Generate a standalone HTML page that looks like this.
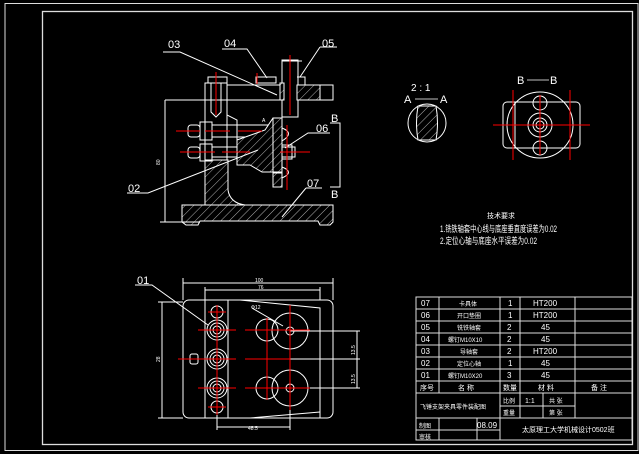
<!DOCTYPE html>
<html><head><meta charset="utf-8"><style>
html,body{margin:0;padding:0;background:#000;}
svg{display:block}
text{font-family:"Liberation Sans","Noto Sans CJK SC",sans-serif;fill:#fff}
</style></head><body>
<svg width="639" height="454" viewBox="0 0 639 454" xmlns="http://www.w3.org/2000/svg">
<defs>
<pattern id="h" width="6" height="6" patternUnits="userSpaceOnUse" patternTransform="rotate(45)">
<rect width="6" height="6" fill="#000"/><line x1="0" y1="0" x2="0" y2="6" stroke="#ddd" stroke-width="0.8"/>
</pattern>
</defs>
<rect x="0" y="0" width="639" height="454" fill="#000"/>
<rect x="5" y="3.5" width="633" height="447" fill="none" stroke="#ddd" stroke-width="1"/>
<rect x="42.5" y="11.5" width="590" height="433" fill="none" stroke="#ddd" stroke-width="1.3"/>

<g stroke="#fff" stroke-width="1" fill="none">
<path d="M182 205 L333 205 L333 222 L330 225 L320 225 L318 221 L200 221 L198 225 L186 225 L182 222 Z" fill="url(#h)"/>
<path d="M205 160 L228 160 L228 190 Q230 203 245 205 L205 205 Z" fill="url(#h)"/>
<rect x="205" y="83" width="22" height="77"/>
<path d="M227 100 L227 115 L237 120 L237 160"/>
<rect x="208" y="77" width="19" height="6"/>
<path d="M211 83 L211 112 L216 117 L221 112 L221 83"/>
<line x1="227" y1="85" x2="282" y2="85"/>
<line x1="165" y1="100" x2="282" y2="100"/>
<rect x="282" y="60" width="16" height="57"/>
<rect x="280" y="83" width="4" height="17" fill="url(#h)"/>
<rect x="297" y="85" width="23" height="15" fill="url(#h)"/>
<rect x="320" y="85" width="13" height="15"/>
<line x1="282" y1="61" x2="302" y2="61"/>
<rect x="256" y="77" width="20" height="6"/>
<path d="M297 77 L305 77 L305 85"/>
<rect x="188" y="125" width="12" height="12" rx="3"/>
<rect x="200" y="122" width="12" height="18"/>
<rect x="212" y="125" width="61" height="12"/>
<rect x="188" y="147" width="12" height="11" rx="3"/>
<rect x="200" y="144" width="12" height="17"/>
<rect x="212" y="147" width="83" height="10"/>
<rect x="282" y="145" width="10" height="14"/>
<path d="M237 140 L265 130 L273 118 L282 118 L282 172 L262 172 L250 165 L237 165 Z" fill="url(#h)"/>
<rect x="273" y="118" width="9" height="69"/>
<rect x="273" y="173" width="9" height="14" fill="url(#h)"/>
<path d="M282 128 Q295 133 282 141"/>
<path d="M282 167 Q295 172 282 178"/>
<line x1="165" y1="100" x2="165" y2="222"/>
<line x1="160" y1="222" x2="200" y2="222"/>
<path d="M330 123 L340 123 L340 187 L330 187"/>
<path d="M163 52 L180 52 L277 95"/>
<path d="M222 49 L247 49 L267 78"/>
<path d="M320 47 L337 47 M320 47 L300 77"/>
<path d="M330 133 L308 133 L285 148"/>
<path d="M127 193 L148 193 L258 150"/>
<path d="M306 188 L322 188 M306 188 L282 217"/>

<rect x="183" y="300" width="150" height="118" rx="6"/>
<line x1="205" y1="300" x2="205" y2="418"/>
<line x1="228" y1="300" x2="228" y2="418"/>
<path d="M240 300 L320 308 L320 418"/>
<path d="M250 418 L320 412"/>
<line x1="183" y1="283" x2="333" y2="283"/><line x1="183" y1="278" x2="183" y2="300"/><line x1="333" y1="278" x2="333" y2="300"/>
<line x1="205" y1="290" x2="320" y2="290"/><line x1="205" y1="287" x2="205" y2="300"/><line x1="320" y1="287" x2="320" y2="300"/>
<line x1="162" y1="302" x2="162" y2="418"/><line x1="158" y1="302" x2="183" y2="302"/><line x1="158" y1="418" x2="183" y2="418"/>
<line x1="217" y1="427" x2="290" y2="427"/><line x1="217" y1="407" x2="217" y2="430"/><line x1="290" y1="395" x2="290" y2="430"/>
<line x1="357" y1="331" x2="357" y2="388"/><line x1="290" y1="331" x2="360" y2="331"/><line x1="290" y1="388" x2="360" y2="388"/><line x1="290" y1="359" x2="360" y2="359"/>
<circle cx="217" cy="312" r="6"/><circle cx="217" cy="407" r="6"/>
<circle cx="217" cy="330" r="10"/><circle cx="217" cy="330" r="7"/><circle cx="217" cy="330" r="4"/>
<circle cx="217" cy="359" r="10"/><circle cx="217" cy="359" r="7"/><circle cx="217" cy="359" r="4"/>
<circle cx="217" cy="388" r="10"/><circle cx="217" cy="388" r="7"/><circle cx="217" cy="388" r="4"/>
<rect x="190" y="354" width="8" height="10" rx="2"/>
<circle cx="290" cy="331" r="18"/><circle cx="267" cy="330" r="11"/><circle cx="290" cy="331" r="4"/>
<circle cx="290" cy="388" r="18"/><circle cx="267" cy="388" r="11"/><circle cx="290" cy="388" r="4"/>
<path d="M135 285 L152 285 L208 325"/>
<path d="M252 308 L283 326"/>

<circle cx="427" cy="123" r="19"/>
<path d="M418 106 Q415 123 418 140 L436 140 Q439 123 436 106 Z" fill="url(#h)"/>
<line x1="415" y1="99" x2="438" y2="99" stroke-width="0.8"/>
<line x1="527" y1="80" x2="549" y2="80" stroke-width="0.8"/>
<circle cx="540" cy="125" r="33"/>
<rect x="503" y="102" width="77" height="46" rx="4"/>
<line x1="515" y1="102" x2="515" y2="148"/><line x1="570" y1="102" x2="570" y2="148"/>
<circle cx="540" cy="103" r="7"/><circle cx="540" cy="148" r="7"/>
<circle cx="540" cy="125" r="12"/><circle cx="540" cy="125" r="7"/><circle cx="540" cy="125" r="4"/>
</g>

<g stroke="#f00" stroke-width="1" fill="none">
<line x1="216" y1="72" x2="216" y2="115"/>
<line x1="290" y1="55" x2="290" y2="115"/>
<line x1="257" y1="73" x2="257" y2="84"/>
<line x1="176" y1="131" x2="200" y2="131"/><line x1="205" y1="131" x2="230" y2="131"/><line x1="238" y1="131" x2="262" y2="131"/>
<line x1="180" y1="152" x2="215" y2="152"/><line x1="222" y1="152" x2="250" y2="152"/><line x1="280" y1="152" x2="310" y2="152"/>
<line x1="287" y1="125" x2="287" y2="190"/>
<line x1="217" y1="305" x2="217" y2="415"/>
<line x1="290" y1="305" x2="290" y2="410"/>
<line x1="267" y1="318" x2="267" y2="400"/>
<line x1="198" y1="330" x2="236" y2="330"/><line x1="245" y1="330" x2="310" y2="330"/>
<line x1="178" y1="359" x2="236" y2="359"/><line x1="245" y1="359" x2="290" y2="359"/>
<line x1="198" y1="388" x2="236" y2="388"/><line x1="245" y1="388" x2="310" y2="388"/>
<line x1="208" y1="312" x2="226" y2="312"/><line x1="208" y1="407" x2="226" y2="407"/>
<line x1="513" y1="90" x2="513" y2="160"/><line x1="570" y1="90" x2="570" y2="160"/>
<line x1="493" y1="125" x2="590" y2="125"/>
<line x1="540" y1="95" x2="540" y2="155"/>
</g>

<g font-size="11">
<text x="168" y="48">03</text><text x="224" y="47">04</text><text x="322" y="47">05</text>
<text x="316" y="132">06</text><text x="128" y="192">02</text><text x="307" y="187">07</text>
<text x="331" y="122">B</text><text x="331" y="198">B</text>
<text x="137" y="284">01</text>
<text x="411" y="91" font-size="10">2 : 1</text>
<text x="404" y="103">A</text><text x="440" y="103">A</text>
<text x="517" y="84">B</text><text x="550" y="84">B</text>
</g>
<g font-size="5">
<text x="255" y="282">100</text><text x="258" y="289">76</text>
<text x="248" y="430">48.5</text><text x="251" y="309">Φ12</text>
<text x="160" y="165" transform="rotate(-90 160 165)">80</text>
<text x="160" y="362" transform="rotate(-90 160 362)">28</text>
<text x="355" y="355" transform="rotate(-90 355 355)">13.5</text>
<text x="355" y="384" transform="rotate(-90 355 384)">13.5</text>
<text x="262" y="122">A</text>
</g>
<text x="487" y="218" font-size="7">技术要求</text>
<text x="440" y="232" font-size="9" textLength="117" lengthAdjust="spacingAndGlyphs">1.铣铁轴套中心线与底座垂直度误差为0.02</text>
<text x="440" y="244" font-size="9" textLength="97" lengthAdjust="spacingAndGlyphs">2.定位心轴与底座水平误差为0.02</text>

<g stroke="#ddd" stroke-width="1" fill="none">
<rect x="416" y="297" width="216" height="143"/>
<line x1="416" y1="309" x2="632" y2="309"/><line x1="416" y1="321" x2="632" y2="321"/>
<line x1="416" y1="333" x2="632" y2="333"/><line x1="416" y1="345" x2="632" y2="345"/>
<line x1="416" y1="357" x2="632" y2="357"/><line x1="416" y1="369" x2="632" y2="369"/>
<line x1="416" y1="381" x2="632" y2="381"/><line x1="416" y1="393" x2="632" y2="393"/>
<line x1="500" y1="406" x2="575" y2="406"/><line x1="416" y1="418" x2="632" y2="418"/>
<line x1="416" y1="430" x2="500" y2="430"/>
<line x1="439" y1="297" x2="439" y2="393"/><line x1="439" y1="418" x2="439" y2="440"/>
<line x1="477" y1="418" x2="477" y2="440"/>
<line x1="500" y1="297" x2="500" y2="440"/>
<line x1="520" y1="297" x2="520" y2="418"/>
<line x1="543" y1="393" x2="543" y2="418"/>
<line x1="575" y1="297" x2="575" y2="418"/>
</g>
<g font-size="8">
<text x="421" y="306">07</text><text x="421" y="318">06</text><text x="421" y="330">05</text>
<text x="421" y="342">04</text><text x="421" y="354">03</text><text x="421" y="366">02</text><text x="421" y="378">01</text>
<text x="420" y="390" font-size="7">序号</text>
<text x="459" y="306" font-size="6">卡具体</text><text x="457" y="318" font-size="6">开口垫圈</text>
<text x="457" y="330" font-size="6">铣铁轴套</text><text x="448" y="342" font-size="6">螺钉M10X10</text>
<text x="460" y="354" font-size="6">导轴套</text><text x="457" y="366" font-size="6">定位心轴</text>
<text x="448" y="378" font-size="6">螺钉M10X20</text>
<text x="458" y="390" font-size="7">名 称</text>
<text x="508" y="306">1</text><text x="508" y="318">1</text><text x="507" y="330">2</text>
<text x="507" y="342">2</text><text x="507" y="354">2</text><text x="508" y="366">1</text><text x="507" y="378">3</text>
<text x="503" y="390" font-size="7">数量</text>
<text x="533" y="306">HT200</text><text x="533" y="318">HT200</text><text x="541" y="330">45</text>
<text x="541" y="342">45</text><text x="533" y="354">HT200</text><text x="541" y="366">45</text><text x="541" y="378">45</text>
<text x="538" y="390" font-size="7">材 料</text><text x="591" y="390" font-size="7">备 注</text>
<text x="420" y="409" font-size="6">飞锤支架夹具零件装配图</text>
<text x="503" y="403" font-size="6">比例</text><text x="525" y="403" font-size="7">1:1</text><text x="549" y="403" font-size="6">共 张</text>
<text x="503" y="415" font-size="6">重量</text><text x="549" y="415" font-size="6">第 张</text>
<text x="419" y="428" font-size="6">制图</text><text x="419" y="439" font-size="6">审核</text>
<text x="477" y="428">08.09</text>
<text x="522" y="432" font-size="7">太原理工大学机械设计0502班</text>
</g>
</svg>
</body></html>
